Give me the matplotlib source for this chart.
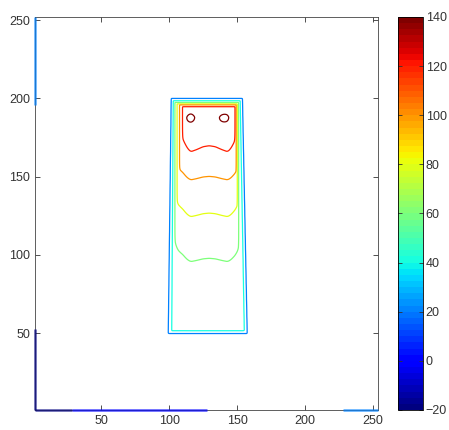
import numpy as np
import matplotlib
matplotlib.use('Agg')
import matplotlib.pyplot as plt
from matplotlib.colors import Normalize
from matplotlib.cm import ScalarMappable
from matplotlib import font_manager

# ---------------- data ----------------
levels = [-20, 0, 20, 40, 60, 80, 100, 120, 140]
cbar_ticks = [-20, 0, 20, 40, 60, 80, 100, 120, 140]
x_ticks = [50, 100, 150, 200, 250]
y_ticks = [50, 100, 150, 200, 250]
x_lim = (1, 254)
y_lim = (1, 252)
c_lim = (-20, 140)
background = 10

# field value along the warm columns of the block (bottom -> top)
prof_y = [40, 52, 65, 80, 95.8, 110, 124.5, 136, 148, 157, 166, 175, 182, 188, 194, 205]
prof_z = [45, 45.5, 49, 54, 60, 70, 80, 90, 100, 110, 120, 127, 132, 135, 135, 135]

# relative cooling across the block width
shape_x = [96, 103, 106, 108, 110, 112, 114, 116, 120, 125, 129.5, 134, 139, 143, 145, 147, 149, 151, 153, 159]
shape_c = [0.4, 0.16, 0.085, 0.065, 0.05, 0.028, 0.01, 0, 0.008, 0.02, 0.024, 0.02, 0.008, 0, 0.01, 0.028, 0.05, 0.085, 0.16, 0.4]
interior_floor = 44

# wall positions of each field value (left / right walls, bottom and top of block)
ramp_levels = [10, 20, 40, 60, 80, 100, 120, 140, 300]
left_bot = [97.5, 99.3, 101.8, 104.2, 105.8, 107.6, 109.8, 112, 125]
left_top = [100.0, 101.5, 103.0, 104.2, 105.8, 107.6, 109.8, 112, 125]
right_bot = [159.5, 157.5, 155.5, 151.2, 150.2, 149.4, 148.5, 146.5, 133]
right_top = [155.5, 154.0, 152.3, 151.2, 150.2, 149.4, 148.5, 146.5, 133]
top_y = [185, 194.7, 195.9, 196.5, 197.4, 198.5, 200, 201.2]
top_z = [300, 120, 100, 80, 60, 40, 20, 10]
bottom_y = [47.5, 49.9, 51.6, 53.5, 56, 70]
bottom_z = [10, 20, 40, 60, 80, 300]

# two hot spots near the top
hot_x = [115, 140]
hot_y = [187.0, 187.0]
hot_amp = [9, 9]
hot_sx = [4.2, 4.2]
hot_sy = [3.0, 3.0]

# contour lines lying on the domain boundary: (axis, start, end, level)
edge_axis = ['bottom', 'bottom', 'bottom', 'left', 'left']
edge_start = [1, 28, 228, 1, 196]
edge_end = [28, 128, 254, 53, 252]
edge_level = [-20, 0, 20, -20, 20]

# ---------------- field ----------------
xg = np.arange(x_lim[0], x_lim[1] + 0.001, 0.25)
yg = np.arange(y_lim[0], y_lim[1] + 0.001, 0.25)
X, Y = np.meshgrid(xg, yg)

cshape = np.interp(xg, shape_x, shape_c)
kern = np.ones(9) / 9.0
cshape = np.convolve(np.pad(cshape, 4, mode='edge'), kern, mode='valid')
F = np.interp(yg, prof_y, prof_z)[:, None] * (1 - cshape[None, :])
F = np.maximum(F, interior_floor)
for hx, hy, ha, sx, sy in zip(hot_x, hot_y, hot_amp, hot_sx, hot_sy):
    F = F + ha * np.exp(-((X - hx) ** 2 / (2 * sx ** 2) + (Y - hy) ** 2 / (2 * sy ** 2)))

lb, lt = np.array(left_bot), np.array(left_top)
rb, rt = np.array(right_bot), np.array(right_top)
ZL = np.empty_like(X)
ZR = np.empty_like(X)
for i, yy in enumerate(yg):
    t = np.clip((yy - 50) / 150.0, 0, 1)
    pl = lb + (lt - lb) * t
    pr = rb + (rt - rb) * t
    ZL[i] = np.interp(xg, pl, ramp_levels)
    ZR[i] = np.interp(-xg, -pr, ramp_levels)
ZT = np.interp(yg, top_y, top_z)[:, None] * np.ones_like(xg)[None, :]
ZB = np.interp(yg, bottom_y, bottom_z)[:, None] * np.ones_like(xg)[None, :]

k = 2.0
stack = np.stack([F, ZL, ZR, ZT, ZB])
m = stack.min(axis=0)
Z = m - k * np.log(np.exp(-(stack - m) / k).sum(axis=0))
Z = np.maximum(Z, background - 5)

# ---------------- plot ----------------
names = {f.name for f in font_manager.fontManager.ttflist}
fams = [n for n in ['Liberation Sans Narrow', 'DejaVu Sans Condensed', 'Liberation Sans'] if n in names]
plt.rcParams['font.family'] = fams + ['DejaVu Sans']
W, H = 449, 430
fig = plt.figure(figsize=(W / 100, H / 100), dpi=100)
ax = fig.add_axes([35 / W, 1 - 410 / H, (378 - 35) / W, (410 - 17) / H])
cax = fig.add_axes([398 / W, 1 - 410 / H, (423 - 398) / W, (410 - 17) / H])

cmap = plt.get_cmap('jet', 64)
norm = Normalize(*c_lim)
ax.contour(X, Y, Z, levels=levels, cmap=plt.get_cmap('jet'), norm=norm, linewidths=0.9)

for a, s, e, lv in zip(edge_axis, edge_start, edge_end, edge_level):
    col = plt.get_cmap('jet')(norm(lv))
    if a == 'bottom':
        ax.plot([s, e], [y_lim[0], y_lim[0]], color=col, lw=1.8, alpha=0.7, clip_on=False, zorder=4, solid_capstyle='butt')
    else:
        ax.plot([x_lim[0], x_lim[0]], [s, e], color=col, lw=1.8, alpha=0.7, clip_on=False, zorder=4, solid_capstyle='butt')

ax.set_xlim(*x_lim)
ax.set_ylim(*y_lim)
ax.set_xticks(x_ticks)
ax.set_yticks(y_ticks)
for axis in (ax, cax):
    axis.tick_params(direction='in', length=3.5, width=0.6, labelsize=9, colors='#333333',
                     top=True, right=True)
    for sp in axis.spines.values():
        sp.set_linewidth(0.6)
        sp.set_color('#444444')

cb = fig.colorbar(ScalarMappable(norm=norm, cmap=cmap), cax=cax)
cb.set_ticks(cbar_ticks)
cb.outline.set_linewidth(0.6)
cax.tick_params(direction='in', left=True, right=True, labelleft=False, labelright=True,
                length=3, width=0.6, labelsize=9, colors='#333333', pad=2)

fig.savefig('out.png', dpi=100)
